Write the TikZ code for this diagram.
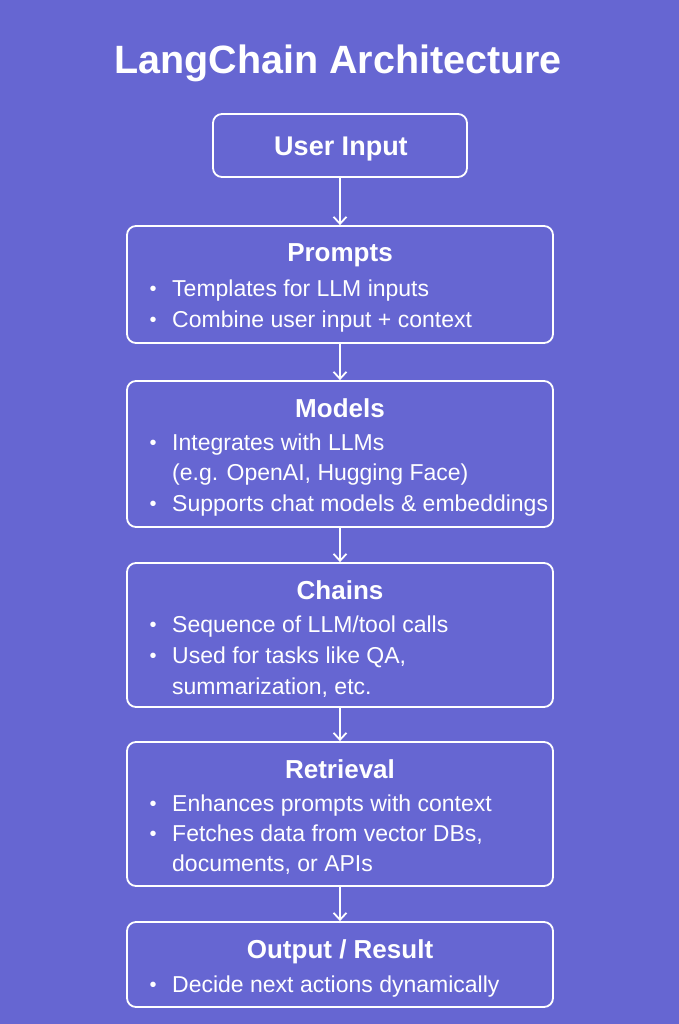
\documentclass[tikz,border=0pt]{standalone}
\usepackage{fontspec}
\setmainfont{Liberation Sans}
\usetikzlibrary{arrows.meta}
\definecolor{bg}{RGB}{102,102,210}
\tikzset{
  box/.style={draw=white, line width=1.8pt, rounded corners=9pt, minimum width=426pt, inner sep=0pt},
  ttl/.style={text=white, font=\fontsize{26}{26}\selectfont\bfseries, anchor=base, inner sep=0pt},
  itm/.style={text=white, font=\fontsize{23}{23}\selectfont, anchor=base west, inner sep=0pt},
  bul/.style={text=white, font=\fontsize{20}{20}\selectfont, anchor=base, inner sep=0pt},
  conn/.style={draw=white, line width=1.8pt, -{Straight Barb[length=7pt,width=13pt,line width=1.8pt]}}
}
\begin{document}
\begin{tikzpicture}[x=1pt,y=-1pt]
\fill[bg] (0,0) rectangle (679,1024);
\useasboundingbox (0,0) rectangle (679,1024);
% title
\node[text=white, font=\fontsize{39.5}{39.5}\selectfont\bfseries, anchor=base, inner sep=0pt] (title) at (338,74) {LangChain Architecture};
% boxes
\node[box, minimum width=254pt, minimum height=63pt] (ui) at (340,145.5) {};
\node[box, minimum height=117pt] (prompts) at (340,284.5) {};
\node[box, minimum height=146pt] (models) at (340,454) {};
\node[box, minimum height=144pt] (chains) at (340,635) {};
\node[box, minimum height=144pt] (retr) at (340,814) {};
\node[box, minimum height=85pt] (out) at (340,964.5) {};
% connectors
\draw[conn] (ui.south) -- (prompts.north);
\draw[conn] (prompts.south) -- (models.north);
\draw[conn] (models.south) -- (chains.north);
\draw[conn] (chains.south) -- (retr.north);
\draw[conn] (retr.south) -- (out.north);
% User input
\node[ttl, font=\fontsize{27}{27}\selectfont\bfseries] (uit) at (341,156) {User Input};
% Prompts
\node[ttl] (pt) at (340,261) {Prompts};
\node[bul] (pb1) at (153,295) {\textbullet};
\node[itm] (p1) at (172,296) {Templates for LLM inputs};
\node[bul] (pb2) at (153,326) {\textbullet};
\node[itm] (p2) at (172,327) {Combine user input + context};
% Models
\node[ttl] (mt) at (340,417) {Models};
\node[bul] (mb1) at (153,449) {\textbullet};
\node[itm] (m1) at (172,450) {Integrates with LLMs};
\node[itm] (m2) at (172,480) {(e.g. OpenAI, Hugging Face)};
\node[bul] (mb3) at (153,510) {\textbullet};
\node[itm] (m3) at (172,511) {Supports chat models \& embeddings};
% Chains
\node[ttl] (ct) at (340,599) {Chains};
\node[bul] (cb1) at (153,631) {\textbullet};
\node[itm] (c1) at (172,632) {Sequence of LLM/tool calls};
\node[bul] (cb2) at (153,662) {\textbullet};
\node[itm] (c2) at (172,663) {Used for tasks like QA,};
\node[itm] (c3) at (172,694) {summarization, etc.};
% Retrieval
\node[ttl] (rt) at (340,778) {Retrieval};
\node[bul] (rb1) at (153,810) {\textbullet};
\node[itm] (r1) at (172,811) {Enhances prompts with context};
\node[bul] (rb2) at (153,840) {\textbullet};
\node[itm] (r2) at (172,841) {Fetches data from vector DBs,};
\node[itm] (r3) at (172,871) {documents, or APIs};
% Output
\node[ttl] (ot) at (340,958) {Output / Result};
\node[bul] (ob1) at (153,991) {\textbullet};
\node[itm] (o1) at (172,992) {Decide next actions dynamically};
\end{tikzpicture}
\end{document}
